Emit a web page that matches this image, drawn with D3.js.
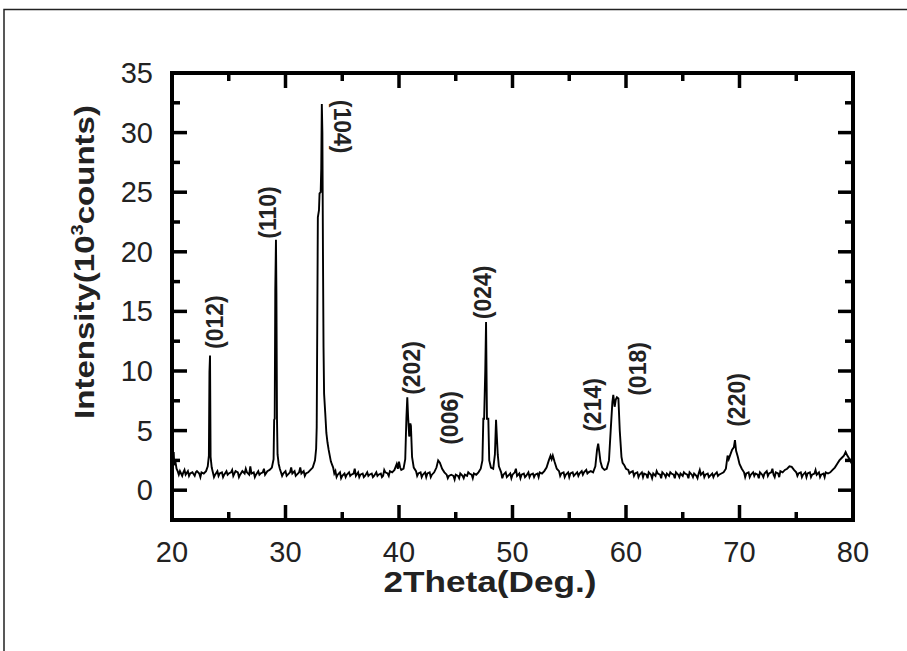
<!DOCTYPE html>
<html>
<head>
<meta charset="utf-8">
<script src="https://cdn.jsdelivr.net/npm/d3@7/dist/d3.min.js"></script>
<style>
  body { margin: 0; background: #fff; }
  text { font-family: "Liberation Sans", Arial, sans-serif; fill: #222; }
</style>
</head>
<body>
<svg id="chart" width="907" height="651"></svg>
<script>
// XRD pattern, 2theta (deg) vs intensity (10^3 counts)
var pattern = [
  [20.0,1.9],[20.05,4.4],[20.1,2.6],[20.15,3.2],[20.2,2.1],[20.3,2.4],[20.4,1.8],[20.5,1.6],[20.6,1.3],[20.7,1.6],
  [20.8,1.4],[20.9,1.2],[21.0,1.5],[21.1,1.7],[21.2,1.3],[21.4,1.6],[21.5,1.2],[21.6,1.4],[21.8,1.5],[22.0,1.2],
  [22.1,1.5],[22.2,1.6],[22.4,1.4],[22.5,1.1],[22.6,1.5],[22.8,1.4],[23.0,1.6],[23.15,2.0],[23.25,2.9],[23.3,9.9],
  [23.35,11.3],[23.4,2.8],[23.5,1.9],[23.6,1.5],[23.7,1.1],[23.8,1.3],[24.0,1.6],[24.1,1.2],[24.2,1.4],[24.4,1.5],
  [24.5,1.1],[24.6,1.3],[24.8,1.6],[24.9,1.3],[25.0,1.4],[25.2,1.5],[25.3,1.7],[25.4,1.2],[25.6,1.6],[25.8,1.5],
  [25.9,1.1],[26.0,1.3],[26.2,1.6],[26.4,1.4],[26.5,1.8],[26.6,1.5],[26.8,1.3],[26.9,2.0],[27.0,1.4],[27.2,1.5],
  [27.3,1.1],[27.4,1.3],[27.6,1.6],[27.7,1.3],[27.8,1.4],[28.0,1.5],[28.1,1.8],[28.2,1.3],[28.4,1.6],[28.6,1.7],
  [28.8,1.9],[28.95,2.6],[29.0,5.9],[29.05,6.0],[29.1,16.8],[29.16,21.0],[29.2,16.5],[29.25,6.0],[29.3,3.0],[29.4,2.2],
  [29.5,1.8],[29.6,1.5],[29.7,1.2],[29.8,1.4],[30.0,1.6],[30.1,1.2],[30.2,1.3],[30.4,1.5],[30.5,1.9],[30.6,1.4],
  [30.8,1.6],[30.9,1.2],[31.0,1.3],[31.2,1.5],[31.3,1.9],[31.4,1.4],[31.6,1.6],[31.7,1.2],[31.8,1.4],[32.0,1.5],
  [32.2,1.7],[32.4,1.9],[32.6,2.5],[32.7,3.5],[32.75,5.3],[32.8,14.0],[32.85,22.9],[32.95,23.5],[33.0,24.9],[33.1,25.0],
  [33.15,27.0],[33.2,32.4],[33.25,30.0],[33.3,20.0],[33.35,12.0],[33.4,8.1],[33.5,6.5],[33.6,4.8],[33.7,4.0],[33.8,3.4],
  [33.9,2.9],[34.0,2.4],[34.2,1.9],[34.3,1.4],[34.4,1.6],[34.5,1.1],[34.6,1.3],[34.8,1.5],[34.9,1.0],[35.0,1.2],
  [35.2,1.4],[35.3,1.1],[35.4,1.3],[35.6,1.5],[35.7,1.2],[35.8,1.3],[36.0,1.4],[36.1,1.8],[36.2,1.2],[36.4,1.5],
  [36.5,1.1],[36.6,1.3],[36.8,1.4],[36.9,1.1],[37.0,1.2],[37.2,1.5],[37.3,1.2],[37.4,1.3],[37.6,1.4],[37.7,1.1],
  [37.8,1.2],[38.0,1.5],[38.1,1.2],[38.2,1.3],[38.4,1.4],[38.5,1.1],[38.6,1.2],[38.7,1.7],[38.8,1.5],[39.0,1.4],
  [39.1,1.2],[39.2,1.6],[39.4,1.5],[39.6,1.7],[39.8,2.2],[39.9,1.8],[40.0,2.4],[40.1,1.9],[40.2,1.7],[40.4,1.8],
  [40.55,2.6],[40.65,6.0],[40.73,7.8],[40.8,6.2],[40.9,4.5],[41.0,5.6],[41.05,5.4],[41.15,2.8],[41.3,1.9],[41.5,1.6],
  [41.6,1.2],[41.7,1.4],[41.9,1.5],[42.0,1.1],[42.1,1.3],[42.3,1.5],[42.4,1.1],[42.5,1.4],[42.7,1.5],[42.8,1.1],
  [42.9,1.3],[43.1,1.5],[43.3,1.9],[43.45,2.5],[43.6,2.3],[43.8,1.8],[44.0,1.5],[44.2,1.3],[44.3,1.0],[44.4,1.2],
  [44.6,1.3],[44.8,1.2],[44.9,0.9],[45.0,1.3],[45.2,1.2],[45.3,1.0],[45.4,1.4],[45.6,1.2],[45.7,1.0],[45.8,1.3],
  [46.0,1.2],[46.1,1.5],[46.2,1.4],[46.4,1.3],[46.5,1.0],[46.6,1.4],[46.8,1.3],[47.0,1.5],[47.2,1.8],[47.35,2.5],
  [47.43,6.0],[47.5,6.0],[47.6,10.0],[47.67,14.1],[47.75,6.0],[47.87,6.0],[47.95,2.5],[48.1,1.9],[48.3,1.8],[48.45,3.0],
  [48.55,5.9],[48.62,4.5],[48.7,3.0],[48.8,2.0],[49.0,1.5],[49.1,1.0],[49.2,1.3],[49.4,1.5],[49.5,1.1],[49.6,1.2],
  [49.8,1.4],[49.9,1.0],[50.0,1.3],[50.2,1.5],[50.3,1.8],[50.4,1.2],[50.6,1.4],[50.7,1.0],[50.8,1.3],[51.0,1.4],
  [51.1,1.1],[51.2,1.2],[51.4,1.5],[51.5,1.1],[51.6,1.3],[51.8,1.4],[51.9,1.1],[52.0,1.3],[52.2,1.4],[52.3,1.1],
  [52.4,1.5],[52.6,1.4],[52.8,1.6],[53.0,1.9],[53.2,2.5],[53.35,2.9],[53.45,2.6],[53.55,2.9],[53.7,2.4],[53.9,1.8],
  [54.1,1.6],[54.2,1.2],[54.3,1.4],[54.5,1.5],[54.6,1.1],[54.7,1.3],[54.9,1.5],[55.0,1.1],[55.1,1.4],[55.3,1.5],
  [55.4,1.2],[55.5,1.3],[55.7,1.5],[55.8,1.2],[55.9,1.4],[56.1,1.6],[56.2,1.3],[56.3,1.5],[56.5,1.7],[56.6,1.4],
  [56.7,1.5],[56.9,1.6],[57.1,1.5],[57.3,2.0],[57.45,3.4],[57.55,3.9],[57.65,3.2],[57.75,2.4],[57.9,1.9],[58.1,1.7],
  [58.3,1.8],[58.5,2.5],[58.65,5.0],[58.8,7.4],[58.88,8.0],[59.0,7.0],[59.1,7.6],[59.2,7.8],[59.33,7.7],[59.45,5.0],
  [59.6,2.8],[59.7,2.3],[59.85,2.1],[60.0,1.8],[60.2,1.7],[60.3,1.4],[60.4,1.5],[60.6,1.6],[60.7,1.2],[60.8,1.4],
  [61.0,1.5],[61.1,1.1],[61.2,1.3],[61.4,1.5],[61.5,1.1],[61.6,1.4],[61.8,1.3],[61.9,1.0],[62.0,1.5],[62.2,1.3],
  [62.3,1.0],[62.4,1.4],[62.6,1.2],[62.7,1.6],[62.8,1.4],[63.0,1.3],[63.1,1.0],[63.2,1.5],[63.4,1.3],[63.5,1.1],
  [63.6,1.4],[63.8,1.2],[63.9,1.5],[64.0,1.4],[64.2,1.3],[64.3,1.0],[64.4,1.5],[64.6,1.3],[64.7,1.1],[64.8,1.4],
  [65.0,1.2],[65.1,1.5],[65.2,1.4],[65.4,1.3],[65.5,1.0],[65.6,1.5],[65.8,1.3],[65.9,1.1],[66.0,1.4],[66.2,1.2],
  [66.3,1.0],[66.4,1.4],[66.5,1.7],[66.6,1.3],[66.8,1.5],[66.9,1.1],[67.0,1.3],[67.2,1.4],[67.3,1.1],[67.4,1.2],
  [67.6,1.4],[67.7,1.1],[67.8,1.3],[68.0,1.5],[68.1,1.2],[68.2,1.3],[68.4,1.4],[68.6,1.5],[68.8,1.8],[68.95,2.9],
  [69.05,2.6],[69.2,3.0],[69.35,3.4],[69.5,3.6],[69.6,4.2],[69.7,3.3],[69.85,2.8],[70.0,2.2],[70.2,1.8],[70.4,1.5],
  [70.5,1.1],[70.6,1.4],[70.8,1.5],[70.9,1.1],[71.0,1.3],[71.2,1.5],[71.3,1.2],[71.4,1.4],[71.6,1.3],[71.7,1.0],
  [71.8,1.5],[72.0,1.3],[72.1,1.1],[72.2,1.4],[72.4,1.6],[72.5,1.2],[72.6,1.4],[72.8,1.5],[72.9,1.8],[73.0,1.3],
  [73.1,1.1],[73.2,1.5],[73.4,1.4],[73.5,1.1],[73.6,1.6],[73.8,1.5],[74.0,1.7],[74.2,1.8],[74.4,2.0],[74.6,1.95],
  [74.8,1.7],[75.0,1.5],[75.1,1.2],[75.2,1.4],[75.4,1.5],[75.5,1.1],[75.6,1.3],[75.8,1.5],[75.9,1.1],[76.0,1.4],
  [76.2,1.5],[76.3,1.1],[76.4,1.3],[76.6,1.4],[76.7,1.7],[76.8,1.3],[77.0,1.5],[77.1,1.1],[77.2,1.3],[77.4,1.4],
  [77.5,1.1],[77.6,1.5],[77.8,1.4],[78.0,1.5],[78.2,1.7],[78.4,1.9],[78.6,2.2],[78.8,2.5],[79.0,2.7],[79.2,2.9],
  [79.35,3.2],[79.5,2.9],[79.7,2.6],[79.85,2.3],[80.0,2.1]
];

// reflection labels: hkl, 2theta and intensity where the label is centred
var peakNames = ["(012)","(110)","(104)","(202)","(006)","(024)","(214)","(018)","(220)"];
var peakTheta = [23.79, 28.46, 34.98, 41.15, 44.49, 47.4, 57.09, 61.06, 69.78];
var peakLevel = [14.1, 23.3, 30.5, 10.25, 6.06, 16.6, 7.15, 10.17, 7.57];

var xTicks = [20, 30, 40, 50, 60, 70, 80];
var yTicks = [0, 5, 10, 15, 20, 25, 30, 35];
var xLabel = "2Theta(Deg.)";

var svg = d3.select("#chart");
var plotL = 172, plotT = 73, plotR = 853, plotB = 520;

var x = d3.scaleLinear().domain([20, 80]).range([plotL, plotR]);
var y = d3.scaleLinear().domain([-2.5, 35]).range([plotB, plotT]);

// outer figure border (only top and left visible)
svg.append("path")
    .attr("d", "M4,660 L4,9.5 L910,9.5")
    .attr("fill", "none")
    .attr("stroke", "#222")
    .attr("stroke-width", 1.5);

svg.append("clipPath").attr("id", "plotclip")
  .append("rect")
    .attr("x", plotL).attr("y", plotT)
    .attr("width", plotR - plotL).attr("height", plotB - plotT);

var line = d3.line()
    .x(function(d) { return x(d[0]); })
    .y(function(d) { return y(d[1]); });

svg.append("path")
    .datum(pattern)
    .attr("clip-path", "url(#plotclip)")
    .attr("fill", "none")
    .attr("stroke", "#000")
    .attr("stroke-width", 1.9)
    .attr("stroke-linejoin", "miter")
    .attr("d", line);

// ticks on all four sides, pointing inward
var xMinor = d3.range(25, 80, 10);
var yMinor = d3.range(2.5, 35, 5);
var tickW = 3.5, majorLen = 15, minorLen = 8;

function addXTicks(vals, len) {
  var g = svg.append("g").attr("stroke", "#000").attr("stroke-width", tickW);
  g.selectAll(".b").data(vals).enter().append("line")
      .attr("x1", function(d) { return x(d); }).attr("x2", function(d) { return x(d); })
      .attr("y1", plotB).attr("y2", plotB - len);
  g.selectAll(".t").data(vals).enter().append("line")
      .attr("x1", function(d) { return x(d); }).attr("x2", function(d) { return x(d); })
      .attr("y1", plotT).attr("y2", plotT + len);
}
function addYTicks(vals, len) {
  var g = svg.append("g").attr("stroke", "#000").attr("stroke-width", tickW);
  g.selectAll(".l").data(vals).enter().append("line")
      .attr("y1", function(d) { return y(d); }).attr("y2", function(d) { return y(d); })
      .attr("x1", plotL).attr("x2", plotL + len);
  g.selectAll(".r").data(vals).enter().append("line")
      .attr("y1", function(d) { return y(d); }).attr("y2", function(d) { return y(d); })
      .attr("x1", plotR).attr("x2", plotR - len);
}
addXTicks(xTicks.slice(1, -1), majorLen);
addXTicks(xMinor, minorLen);
addYTicks(yTicks.slice(0, -1), majorLen);
addYTicks(yMinor, minorLen);

svg.append("rect")
    .attr("x", plotL).attr("y", plotT)
    .attr("width", plotR - plotL).attr("height", plotB - plotT)
    .attr("fill", "none")
    .attr("stroke", "#000")
    .attr("stroke-width", 4);

// tick labels
svg.selectAll(".xl").data(xTicks).enter().append("text")
    .attr("x", function(d) { return x(d); })
    .attr("y", 562)
    .attr("text-anchor", "middle")
    .style("font-size", "29px")
    .text(function(d) { return d; });

svg.selectAll(".yl").data(yTicks).enter().append("text")
    .attr("x", 153)
    .attr("y", function(d) { return y(d) + 10; })
    .attr("text-anchor", "end")
    .style("font-size", "29px")
    .text(function(d) { return d; });

// axis titles
svg.append("text")
    .attr("x", 490).attr("y", 592)
    .attr("text-anchor", "middle")
    .attr("textLength", 213)
    .attr("lengthAdjust", "spacingAndGlyphs")
    .style("font-size", "29px").style("font-weight", "bold")
    .text(xLabel);

var yt = svg.append("text")
    .attr("transform", "translate(94,262) rotate(-90) scale(1.18,1)")
    .attr("text-anchor", "middle")
    .style("font-size", "28px").style("font-weight", "bold");
yt.append("tspan").text("Intensity(10");
yt.append("tspan").attr("dy", -11).style("font-size", "17px").text("3");
yt.append("tspan").attr("dy", 11).text("counts)");

// reflection labels
svg.selectAll(".pk").data(peakNames).enter().append("text")
    .attr("transform", function(d, i) {
      var r = d === "(104)" ? 90 : -90;
      return "translate(" + x(peakTheta[i]) + "," + y(peakLevel[i]) + ") rotate(" + r + ")";
    })
    .attr("text-anchor", "middle")
    .attr("dy", "0.36em")
    .style("font-size", "23px").style("font-weight", "bold")
    .text(function(d) { return d; });
</script>
</body>
</html>
